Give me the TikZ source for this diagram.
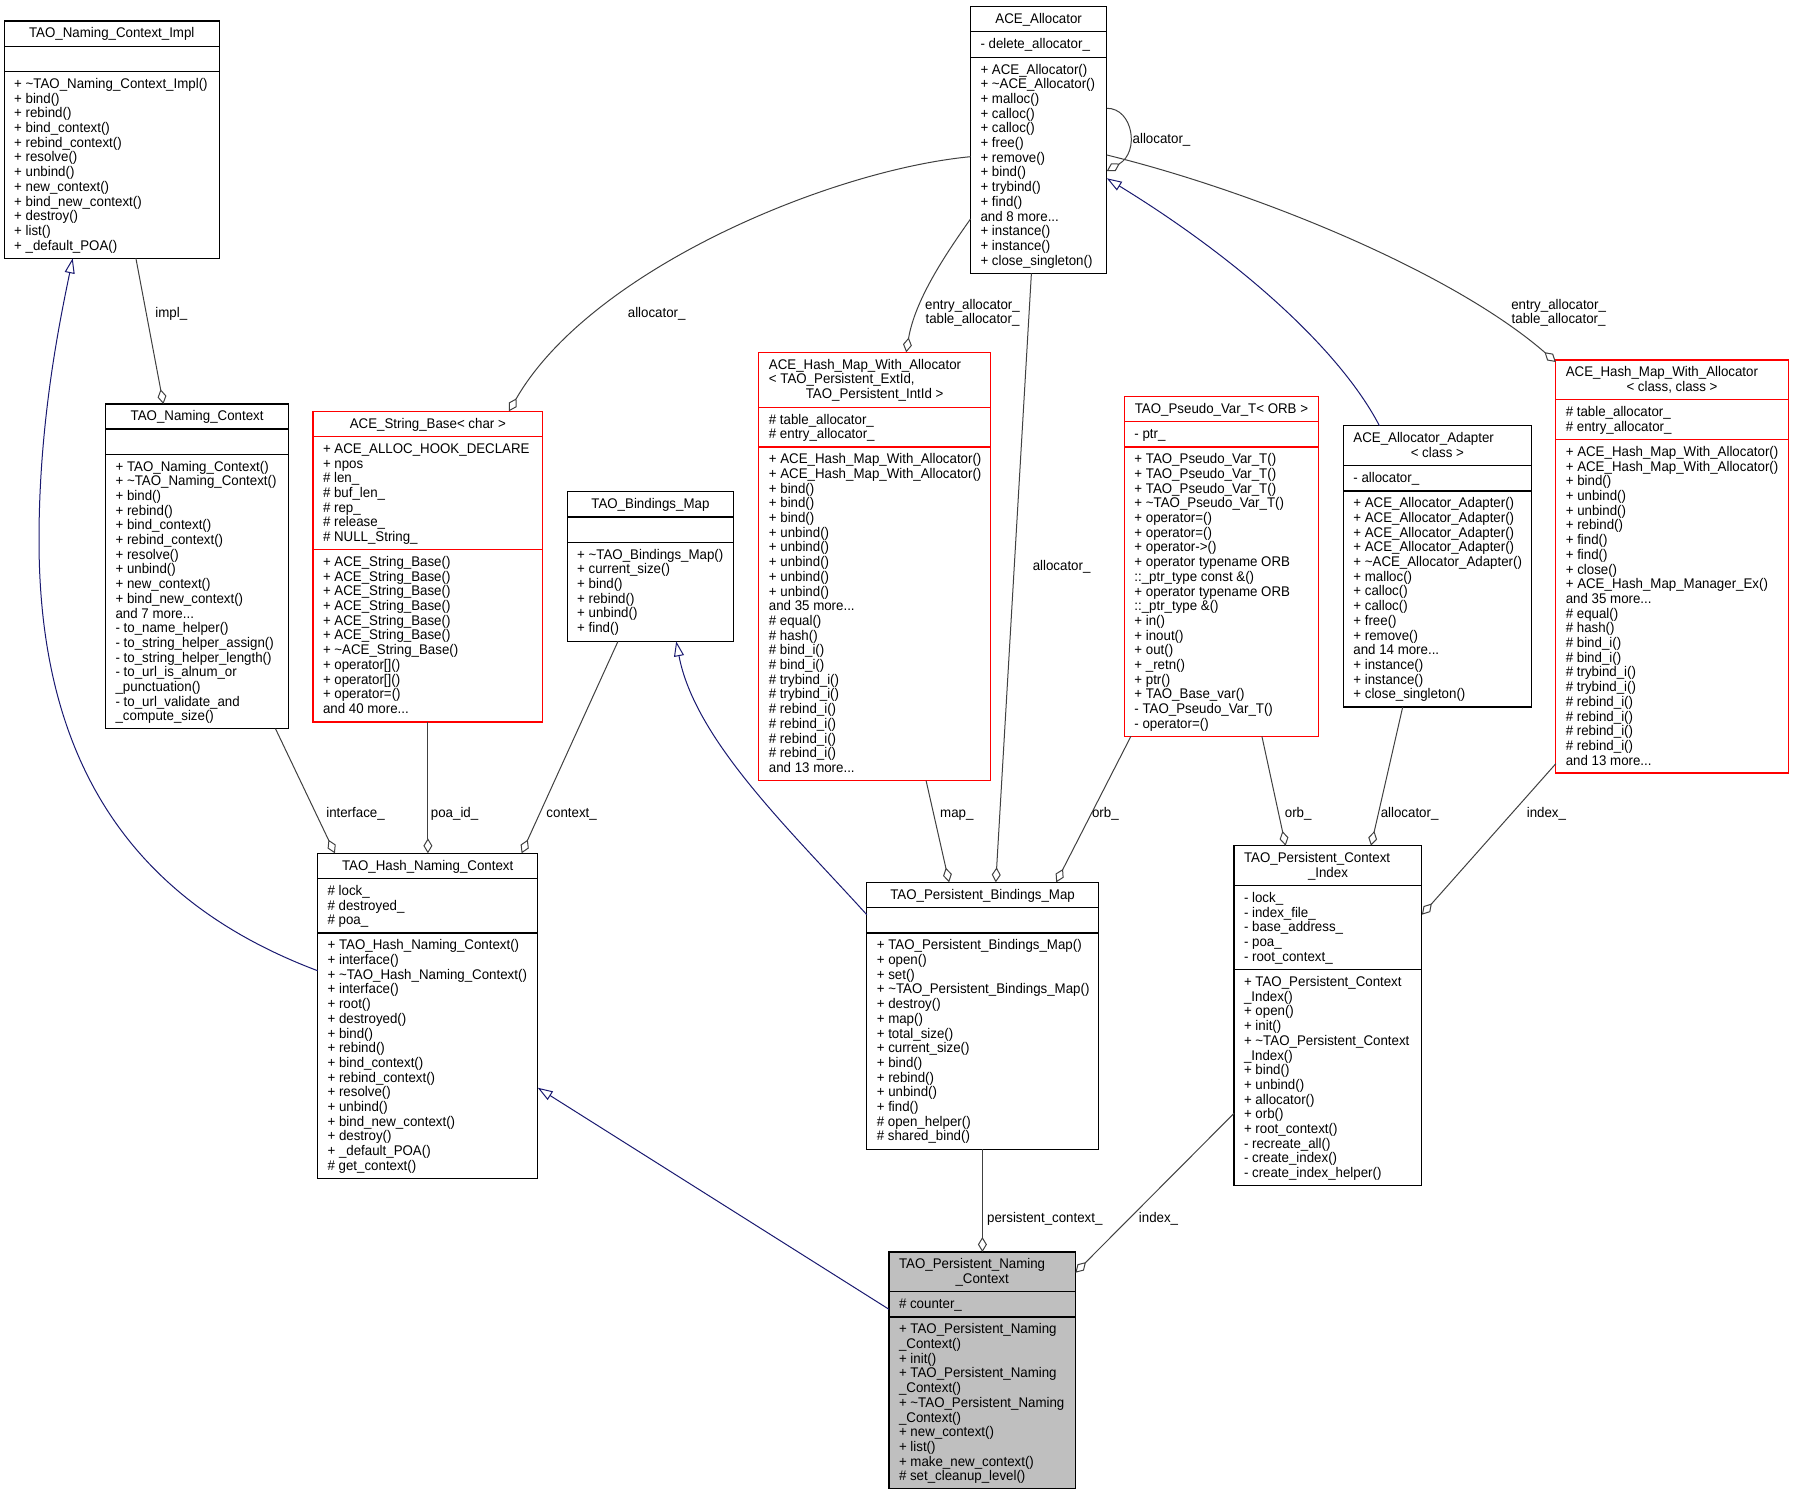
\documentclass[tikz,border=0pt]{standalone}
\usepackage{fontspec}
\setmainfont{Liberation Sans}[FakeStretch=0.95]
\usetikzlibrary{arrows.meta}
\definecolor{edgegray}{HTML}{404040}
\definecolor{inhblue}{HTML}{191970}
\definecolor{boxred}{HTML}{FF0000}
\definecolor{pncfill}{HTML}{BFBFBF}
\newcommand\dfont{\fontsize{14}{14.7}\selectfont}
\newcommand\tld{\textasciitilde}
\newcounter{tnode}
\tikzset{
  blackline/.style={draw=black, line width=1.1pt},
  redline/.style={draw=boxred, line width=1.1pt},
  umlbox/.style={rectangle, draw=black, line width=1.1pt, fill=white, inner sep=0pt, outer sep=0pt, anchor=north west},
  redbox/.style={umlbox, draw=boxred},
  selbox/.style={umlbox, fill=pncfill},
  txt/.style={font=\dfont, inner sep=0pt, outer sep=0pt, align=left, anchor=north west},
  ttl/.style={font=\dfont, inner sep=0pt, outer sep=0pt, anchor=north},
  lbl/.style={font=\dfont, inner sep=0pt, outer sep=0pt, anchor=north, align=center},
  agg/.style={draw=edgegray, line width=1pt, -{Diamond[open,length=15pt,width=9pt]}},
  inh/.style={draw=inhblue, line width=1pt, -{Triangle[open,length=15pt,width=10pt]}},
}
% #1 style, #2 name, #3 x1, #4 y1, #5 x2, #6 y2
\newcommand\ubox[6]{\node[#1, minimum width={#5-#3}, minimum height={#6-#4}] (#2) at (#3,#4) {};}
% #1 style, #2 name, #3 y
\newcommand\usep[3]{\draw[#1] (#2.west |- 0,#3) -- (#2.east |- 0,#3);}
% #1 x1 of box, #2 section top, #3 lines
\newcommand\utxt[3]{\stepcounter{tnode}\node[txt] (t\arabic{tnode}) at (#1+10,#2+6.5) {\strut #3};}
% #1 box name, #2 y of line top region, #3 text
\newcommand\uttl[3]{\stepcounter{tnode}\node[ttl] (t\arabic{tnode}) at (#1.north |- 0,#2+6.5) {\strut #3};}
% #1 name, #2 x, #3 y (visual centre), #4 text
\newcommand\ulbl[4]{\node[lbl] (#1) at (#2,#3-5.3) {\strut #4};}
\begin{document}
\begin{tikzpicture}[x=1pt,y=-1pt]
\path[use as bounding box] (0,0) rectangle (1793,1496);

% ---------- TAO_Naming_Context_Impl
\ubox{umlbox}{impl}{4.2}{21}{219.3}{258.3}
\usep{blackline}{impl}{46.7}
\usep{blackline}{impl}{71.7}
\uttl{impl}{21}{TAO\_Naming\_Context\_Impl}
\utxt{4.2}{71.7}{+ \tld TAO\_Naming\_Context\_Impl()\\+ bind()\\+ rebind()\\+ bind\_context()\\+ rebind\_context()\\+ resolve()\\+ unbind()\\+ new\_context()\\+ bind\_new\_context()\\+ destroy()\\+ list()\\+ \_default\_POA()}

% ---------- ACE_Allocator
\ubox{umlbox}{aceall}{970.5}{6.3}{1106.8}{273.3}
\usep{blackline}{aceall}{31.7}
\usep{blackline}{aceall}{57.3}
\uttl{aceall}{6.3}{ACE\_Allocator}
\utxt{970.5}{31.7}{- delete\_allocator\_}
\utxt{970.5}{57.3}{+ ACE\_Allocator()\\+ \tld ACE\_Allocator()\\+ malloc()\\+ calloc()\\+ calloc()\\+ free()\\+ remove()\\+ bind()\\+ trybind()\\+ find()\\and 8 more...\\+ instance()\\+ instance()\\+ close\_singleton()}

% ---------- TAO_Naming_Context
\ubox{umlbox}{tnc}{105.6}{404}{288.6}{728.7}
\usep{blackline}{tnc}{429}
\usep{blackline}{tnc}{454.3}
\uttl{tnc}{404}{TAO\_Naming\_Context}
\utxt{105.6}{454.3}{+ TAO\_Naming\_Context()\\+ \tld TAO\_Naming\_Context()\\+ bind()\\+ rebind()\\+ bind\_context()\\+ rebind\_context()\\+ resolve()\\+ unbind()\\+ new\_context()\\+ bind\_new\_context()\\and 7 more...\\- to\_name\_helper()\\- to\_string\_helper\_assign()\\- to\_string\_helper\_length()\\- to\_url\_is\_alnum\_or\\\_punctuation()\\- to\_url\_validate\_and\\\_compute\_size()}

% ---------- ACE_String_Base< char >
\ubox{redbox}{strb}{313}{411.3}{542.7}{722}
\usep{redline}{strb}{436.7}
\usep{redline}{strb}{549.7}
\uttl{strb}{411.3}{ACE\_String\_Base< char >}
\utxt{313}{436.7}{+ ACE\_ALLOC\_HOOK\_DECLARE\\+ npos\\\# len\_\\\# buf\_len\_\\\# rep\_\\\# release\_\\\# NULL\_String\_}
\utxt{313}{549.7}{+ ACE\_String\_Base()\\+ ACE\_String\_Base()\\+ ACE\_String\_Base()\\+ ACE\_String\_Base()\\+ ACE\_String\_Base()\\+ ACE\_String\_Base()\\+ \tld ACE\_String\_Base()\\+ operator[]()\\+ operator[]()\\+ operator=()\\and 40 more...}

% ---------- TAO_Bindings_Map
\ubox{umlbox}{bmap}{567.2}{491.7}{733.6}{641.3}
\usep{blackline}{bmap}{517}
\usep{blackline}{bmap}{542.3}
\uttl{bmap}{491.7}{TAO\_Bindings\_Map}
\utxt{567.2}{542.3}{+ \tld TAO\_Bindings\_Map()\\+ current\_size()\\+ bind()\\+ rebind()\\+ unbind()\\+ find()}

% ---------- ACE_Hash_Map_With_Allocator< TAO_Persistent_ExtId, TAO_Persistent_IntId >
\ubox{redbox}{hmt}{758.9}{352.3}{990.4}{780.7}
\usep{redline}{hmt}{407.3}
\usep{redline}{hmt}{447}
\utxt{758.9}{352.3}{ACE\_Hash\_Map\_With\_Allocator\\< TAO\_Persistent\_ExtId,}
\uttl{hmt}{381.7}{TAO\_Persistent\_IntId >}
\utxt{758.9}{407.3}{\# table\_allocator\_\\\# entry\_allocator\_}
\utxt{758.9}{447}{+ ACE\_Hash\_Map\_With\_Allocator()\\+ ACE\_Hash\_Map\_With\_Allocator()\\+ bind()\\+ bind()\\+ bind()\\+ unbind()\\+ unbind()\\+ unbind()\\+ unbind()\\+ unbind()\\and 35 more...\\\# equal()\\\# hash()\\\# bind\_i()\\\# bind\_i()\\\# trybind\_i()\\\# trybind\_i()\\\# rebind\_i()\\\# rebind\_i()\\\# rebind\_i()\\\# rebind\_i()\\and 13 more...}

% ---------- TAO_Pseudo_Var_T< ORB >
\ubox{redbox}{pvar}{1124.4}{396.7}{1318.5}{736.3}
\usep{redline}{pvar}{421.7}
\usep{redline}{pvar}{447}
\uttl{pvar}{396.7}{TAO\_Pseudo\_Var\_T< ORB >}
\utxt{1124.4}{421.7}{- ptr\_}
\utxt{1124.4}{447}{+ TAO\_Pseudo\_Var\_T()\\+ TAO\_Pseudo\_Var\_T()\\+ TAO\_Pseudo\_Var\_T()\\+ \tld TAO\_Pseudo\_Var\_T()\\+ operator=()\\+ operator=()\\+ operator->()\\+ operator typename ORB\\::\_ptr\_type const \&()\\+ operator typename ORB\\::\_ptr\_type \&()\\+ in()\\+ inout()\\+ out()\\+ \_retn()\\+ ptr()\\+ TAO\_Base\_var()\\- TAO\_Pseudo\_Var\_T()\\- operator=()}

% ---------- ACE_Allocator_Adapter< class >
\ubox{umlbox}{adapt}{1343.4}{425.7}{1531.3}{707}
\usep{blackline}{adapt}{465.7}
\usep{blackline}{adapt}{491}
\utxt{1343.4}{425.7}{ACE\_Allocator\_Adapter}
\uttl{adapt}{440.4}{< class >}
\utxt{1343.4}{465.7}{- allocator\_}
\utxt{1343.4}{491}{+ ACE\_Allocator\_Adapter()\\+ ACE\_Allocator\_Adapter()\\+ ACE\_Allocator\_Adapter()\\+ ACE\_Allocator\_Adapter()\\+ \tld ACE\_Allocator\_Adapter()\\+ malloc()\\+ calloc()\\+ calloc()\\+ free()\\+ remove()\\and 14 more...\\+ instance()\\+ instance()\\+ close\_singleton()}

% ---------- ACE_Hash_Map_With_Allocator< class, class >
\ubox{redbox}{hmc}{1555.8}{360}{1788.1}{773}
\usep{redline}{hmc}{399.7}
\usep{redline}{hmc}{439.7}
\utxt{1555.8}{360}{ACE\_Hash\_Map\_With\_Allocator}
\uttl{hmc}{374.7}{< class, class >}
\utxt{1555.8}{399.7}{\# table\_allocator\_\\\# entry\_allocator\_}
\utxt{1555.8}{439.7}{+ ACE\_Hash\_Map\_With\_Allocator()\\+ ACE\_Hash\_Map\_With\_Allocator()\\+ bind()\\+ unbind()\\+ unbind()\\+ rebind()\\+ find()\\+ find()\\+ close()\\+ ACE\_Hash\_Map\_Manager\_Ex()\\and 35 more...\\\# equal()\\\# hash()\\\# bind\_i()\\\# bind\_i()\\\# trybind\_i()\\\# trybind\_i()\\\# rebind\_i()\\\# rebind\_i()\\\# rebind\_i()\\\# rebind\_i()\\and 13 more...}

% ---------- TAO_Hash_Naming_Context
\ubox{umlbox}{hnc}{317.6}{853.3}{537.7}{1178.7}
\usep{blackline}{hnc}{878.7}
\usep{blackline}{hnc}{933}
\uttl{hnc}{853.3}{TAO\_Hash\_Naming\_Context}
\utxt{317.6}{878.7}{\# lock\_\\\# destroyed\_\\\# poa\_}
\utxt{317.6}{933}{+ TAO\_Hash\_Naming\_Context()\\+ interface()\\+ \tld TAO\_Hash\_Naming\_Context()\\+ interface()\\+ root()\\+ destroyed()\\+ bind()\\+ rebind()\\+ bind\_context()\\+ rebind\_context()\\+ resolve()\\+ unbind()\\+ bind\_new\_context()\\+ destroy()\\+ \_default\_POA()\\\# get\_context()}

% ---------- TAO_Persistent_Bindings_Map
\ubox{umlbox}{pbm}{866.8}{882.3}{1098.3}{1149.3}
\usep{blackline}{pbm}{907.3}
\usep{blackline}{pbm}{933}
\uttl{pbm}{882.3}{TAO\_Persistent\_Bindings\_Map}
\utxt{866.8}{933}{+ TAO\_Persistent\_Bindings\_Map()\\+ open()\\+ set()\\+ \tld TAO\_Persistent\_Bindings\_Map()\\+ destroy()\\+ map()\\+ total\_size()\\+ current\_size()\\+ bind()\\+ rebind()\\+ unbind()\\+ find()\\\# open\_helper()\\\# shared\_bind()}

% ---------- TAO_Persistent_Context_Index
\ubox{umlbox}{pci}{1234}{845.7}{1421.9}{1185.3}
\usep{blackline}{pci}{885.7}
\usep{blackline}{pci}{969.7}
\utxt{1234}{845.7}{TAO\_Persistent\_Context}
\uttl{pci}{860.4}{\_Index}
\utxt{1234}{885.7}{- lock\_\\- index\_file\_\\- base\_address\_\\- poa\_\\- root\_context\_}
\utxt{1234}{969.7}{+ TAO\_Persistent\_Context\\\_Index()\\+ open()\\+ init()\\+ \tld TAO\_Persistent\_Context\\\_Index()\\+ bind()\\+ unbind()\\+ allocator()\\+ orb()\\+ root\_context()\\- recreate\_all()\\- create\_index()\\- create\_index\_helper()}

% ---------- TAO_Persistent_Naming_Context
\ubox{selbox}{pnc}{889}{1252}{1075.4}{1488.7}
\usep{blackline}{pnc}{1291.3}
\usep{blackline}{pnc}{1317}
\utxt{889}{1252}{TAO\_Persistent\_Naming}
\uttl{pnc}{1266.7}{\_Context}
\utxt{889}{1291.3}{\# counter\_}
\utxt{889}{1317}{+ TAO\_Persistent\_Naming\\\_Context()\\+ init()\\+ TAO\_Persistent\_Naming\\\_Context()\\+ \tld TAO\_Persistent\_Naming\\\_Context()\\+ new\_context()\\+ list()\\+ make\_new\_context()\\\# set\_cleanup\_level()}

% ================= connectors
% aggregation (diamond at the owning class)
\draw[agg] (impl.south -| 135.9,0) -- (tnc.north -| 163.4,0);
\draw[agg] (aceall.west |- 0,156.7) .. controls (830,170) and (590,270) .. (strb.north -| 509,0);
\draw[agg] (aceall.east |- 0,108.3) .. controls (1133,108) and (1140,152) .. (aceall.east |- 0,171);
\draw[agg] (aceall.west |- 0,219) .. controls (945,255) and (915,300) .. (hmt.north -| 906.2,0);
\draw[agg] (aceall.south -| 1031.4,0) -- (pbm.north -| 995.8,0);
\draw[agg] (aceall.east |- 0,155) .. controls (1250,190) and (1450,270) .. (hmc.west |- 0,362);
\draw[agg] (bmap.south -| 618,0) -- (hnc.north -| 521.6,0);
\draw[agg] (strb.south -| 427.9,0) -- (hnc.north -| 427.9,0);
\draw[agg] (tnc.south -| 275.5,0) -- (hnc.north -| 334.9,0);
\draw[agg] (hmt.south -| 926.1,0) -- (pbm.north -| 949.1,0);
\draw[agg] (pvar.south -| 1130.9,0) -- (pbm.north -| 1056.2,0);
\draw[agg] (pvar.south -| 1261.9,0) -- (pci.north -| 1285.6,0);
\draw[agg] (adapt.south -| 1402.7,0) -- (pci.north -| 1371,0);
\draw[agg] (hmc.west |- 0,763.7) -- (pci.east |- 0,914.7);
\draw[agg] (pbm.south -| 982.4,0) -- (pnc.north -| 982.4,0);
\draw[agg] (pci.west |- 0,1113.3) -- (pnc.east |- 0,1272.7);
% inheritance (triangle at the base class)
\draw[inh] (adapt.north -| 1379.4,0) .. controls (1340,350) and (1240,260) .. (aceall.east |- 0,178.3);
\draw[inh] (hnc.west |- 0,970.7) .. controls (130,900) and (39,760) .. (39,540) .. controls (39,420) and (60,320) .. (impl.south -| 72.7,0);
\draw[inh] (pbm.west |- 0,914.7) .. controls (790,830) and (695,740) .. (bmap.south -| 676.2,0);
\draw[inh] (pnc.west |- 0,1309.3) -- (hnc.east |- 0,1087.7);

% ================= connector labels
\ulbl{l1}{171.3}{312.7}{impl\_}
\ulbl{l2}{656.7}{312.7}{allocator\_}
\ulbl{l3}{1161.5}{138.3}{allocator\_}
\ulbl{l4}{972.5}{304.3}{entry\_allocator\_\\table\_allocator\_}
\ulbl{l5}{1061.6}{565.7}{allocator\_}
\ulbl{l6}{1558.6}{304.3}{entry\_allocator\_\\table\_allocator\_}
\ulbl{l7}{355.5}{812.3}{interface\_}
\ulbl{l8}{454.6}{812.3}{poa\_id\_}
\ulbl{l9}{571.6}{812.3}{context\_}
\ulbl{l10}{956.8}{813}{map\_}
\ulbl{l11}{1105.4}{813}{orb\_}
\ulbl{l12}{1298.2}{813}{orb\_}
\ulbl{l13}{1409.6}{813}{allocator\_}
\ulbl{l14}{1546.4}{813}{index\_}
\ulbl{l15}{1044.8}{1217.7}{persistent\_context\_}
\ulbl{l16}{1158.5}{1217.7}{index\_}
\end{tikzpicture}
\end{document}
